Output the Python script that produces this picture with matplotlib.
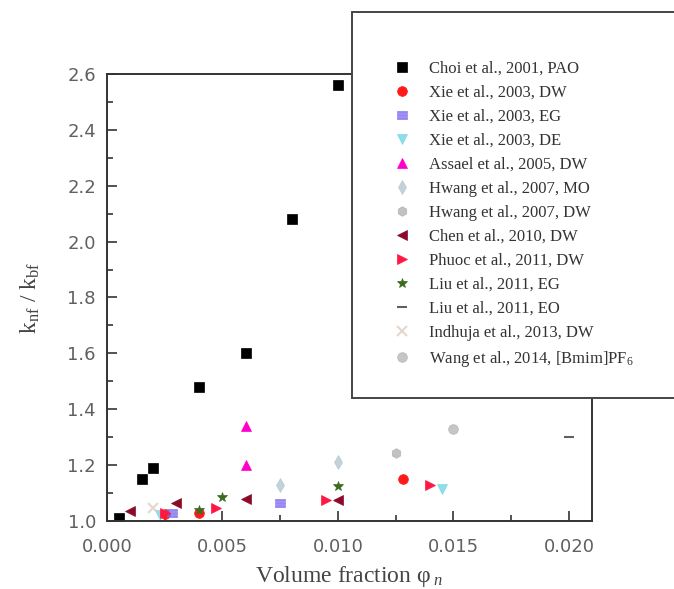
import matplotlib.pyplot as plt
from matplotlib.patches import Rectangle
from matplotlib.ticker import MultipleLocator

plt.rcParams["mathtext.fontset"] = "custom"
plt.rcParams["mathtext.rm"] = "Liberation Serif"
plt.rcParams["mathtext.it"] = "Liberation Serif:italic"

choi_x = [0.0005, 0.0015, 0.002, 0.004, 0.006, 0.008, 0.010]
choi_y = [1.01, 1.15, 1.19, 1.48, 1.60, 2.08, 2.56]
xie_dw_x = [0.0025, 0.004, 0.0128]
xie_dw_y = [1.025, 1.03, 1.15]
xie_eg_x = [0.0028, 0.0075]
xie_eg_y = [1.03, 1.065]
xie_de_x = [0.0023, 0.0145]
xie_de_y = [1.02, 1.115]
assael_x = [0.006, 0.006]
assael_y = [1.20, 1.34]
hwang_mo_x = [0.0075, 0.010]
hwang_mo_y = [1.13, 1.21]
hwang_dw_x = [0.0125]
hwang_dw_y = [1.245]
chen_x = [0.001, 0.003, 0.006, 0.010]
chen_y = [1.035, 1.065, 1.08, 1.075]
phuoc_x = [0.0025, 0.0047, 0.0095, 0.014]
phuoc_y = [1.03, 1.045, 1.075, 1.13]
liu_eg_x = [0.004, 0.005, 0.010]
liu_eg_y = [1.04, 1.085, 1.125]
liu_eo_x = [0.020]
liu_eo_y = [1.30]
indhuja_x = [0.002]
indhuja_y = [1.045]
wang_x = [0.015]
wang_y = [1.33]

series = [
    ("Choi et al., 2001, PAO", choi_x, choi_y, "s", "black", 1.0),
    ("Xie et al., 2003, DW", xie_dw_x, xie_dw_y, "o", "#ff1a1a", 1.0),
    ("Xie et al., 2003, EG", xie_eg_x, xie_eg_y, "$\\equiv$", "#7b68ee", 0.8),
    ("Xie et al., 2003, DE", xie_de_x, xie_de_y, "v", "#5fd0e0", 0.7),
    ("Assael et al., 2005, DW", assael_x, assael_y, "^", "#ff00cc", 1.0),
    ("Hwang et al., 2007, MO", hwang_mo_x, hwang_mo_y, "d", "#a8c0c8", 0.7),
    ("Hwang et al., 2007, DW", hwang_dw_x, hwang_dw_y, "h", "#a8a8a8", 0.7),
    ("Chen et al., 2010, DW", chen_x, chen_y, "<", "#8b0a2a", 1.0),
    ("Phuoc et al., 2011, DW", phuoc_x, phuoc_y, ">", "#ff1744", 1.0),
    ("Liu et al., 2011, EG", liu_eg_x, liu_eg_y, "*", "#3d6b1e", 1.0),
    ("Liu et al., 2011, EO", liu_eo_x, liu_eo_y, "_", "#606060", 1.0),
    ("Indhuja et al., 2013, DW", indhuja_x, indhuja_y, "x", "#d8c8b8", 0.7),
    ("Wang et al., 2014, [Bmim]PF$_6$", wang_x, wang_y, "o", "#a0a0a0", 0.6),
]

fig = plt.figure(figsize=(6.74, 5.89), dpi=100)
ax = fig.add_axes([0.1588, 0.1155, 0.7195, 0.759])

for label, xs, ys, mk, col, a in series:
    ax.plot(xs, ys, linestyle="none", marker=mk, color=col, alpha=a,
            markersize=7, markeredgewidth=1.5 if mk in ("_", "x") else 0.5,
            label=label)

ax.set_xlim(0, 0.021)
ax.set_ylim(1.0, 2.6)
ax.xaxis.set_major_locator(MultipleLocator(0.005))
ax.xaxis.set_minor_locator(MultipleLocator(0.0025))
ax.yaxis.set_major_locator(MultipleLocator(0.2))
ax.yaxis.set_minor_locator(MultipleLocator(0.1))
ax.xaxis.set_major_formatter(plt.FormatStrFormatter("%.3f"))
ax.yaxis.set_major_formatter(plt.FormatStrFormatter("%.1f"))
ax.tick_params(which="both", direction="in", top=False, right=False,
               color="#333333", width=1.2, labelsize=13, labelcolor="#606060")
ax.tick_params(axis="x", which="major", length=7, pad=12)
ax.tick_params(axis="y", which="major", length=7, pad=8)
ax.tick_params(which="minor", length=4)
for sp in ax.spines.values():
    sp.set_color("#333333")
    sp.set_linewidth(1.4)

ax.set_xlabel("Volume fraction φ$_{\\;n}$", family="Liberation Serif",
              fontsize=17, color="#444444", labelpad=6)
ax.set_ylabel("k$_{\\mathrm{nf}}$ / k$_{\\mathrm{bf}}$", family="Liberation Serif",
              fontsize=17, color="#444444", labelpad=18)

# legend sits in its own box that runs past the right edge
box = Rectangle((352 / 674, 1 - 398 / 589), 330 / 674, 386 / 589,
                transform=fig.transFigure, facecolor="white",
                edgecolor="#444444", linewidth=1.4, zorder=5)
fig.patches.append(box)
leg = fig.legend(loc="upper left", bbox_to_anchor=(0.565, 0.911),
                 frameon=False, borderpad=0, handlelength=1.6,
                 handletextpad=0.8, labelspacing=0.48,
                 prop={"family": "Liberation Serif", "size": 12})
leg.set_zorder(6)
for t in leg.get_texts():
    t.set_color("#333333")

fig.savefig("out.png", dpi=100)
